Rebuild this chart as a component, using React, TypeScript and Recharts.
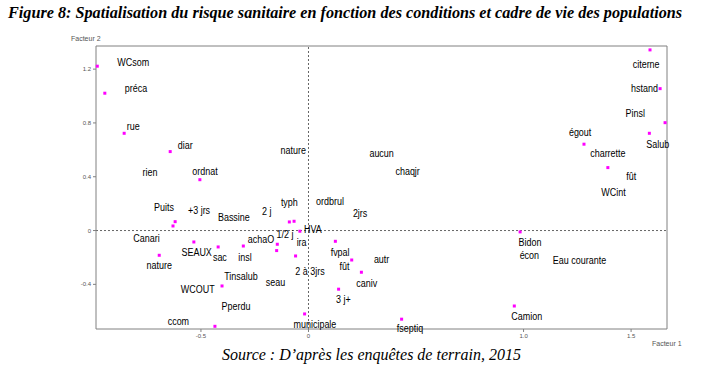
import React from "react";
import { ScatterChart, Scatter, XAxis, YAxis, ReferenceLine } from "recharts";

const pointX = [-0.982, -0.947, -0.857, -0.643, -0.505, -0.62, -0.63, -0.533, -0.42, -0.694, -0.402, -0.435,
  -0.089, -0.067, -0.04, 0.125, -0.145, -0.303, -0.148, -0.06, 0.201, 0.246, 0.14, -0.018, 0.433,
  1.588, 1.635, 1.658, 1.585, 1.281, 1.392, 0.984, 0.957];
const pointY = [1.222, 1.021, 0.723, 0.587, 0.378, 0.066, 0.034, -0.085, -0.122, -0.184, -0.412, -0.712,
  0.064, 0.069, -0.005, -0.08, -0.102, -0.115, -0.149, -0.189, -0.219, -0.31, -0.436, -0.62, -0.659,
  1.343, 1.055, 0.802, 0.723, 0.642, 0.468, -0.01, -0.561];

const labelText = ["WCsom", "préca", "rue", "diar", "rien", "ordnat", "Puits", "+3 jrs", "Bassine", "Canari",
  "SEAUX", "sac", "nature", "insl", "Tinsalub", "WCOUT", "Pperdu", "ccom", "nature", "aucun", "chaqjr",
  "ordbrul", "typh", "2 j", "2jrs", "HVA", "1/2 j", "achaO", "ira", "fvpal", "autr", "fût", "2 à 3jrs",
  "seau", "caniv", "3 j+", "municipale", "fseptiq", "citerne", "hstand", "Pinsl", "égout", "Salub",
  "charrette", "fût", "WCint", "Bidon", "écon", "Eau courante", "Camion"];
const labelX = [-0.815, -0.802, -0.815, -0.573, -0.737, -0.481, -0.672, -0.509, -0.347, -0.753,
  -0.52, -0.412, -0.694, -0.295, -0.314, -0.515, -0.337, -0.605, -0.071, 0.34, 0.461,
  0.1, -0.089, -0.194, 0.24, 0.02, -0.109, -0.221, -0.032, 0.147, 0.34, 0.167, 0.007,
  -0.153, 0.271, 0.162, 0.03, 0.472, 1.57, 1.562, 1.519, 1.263, 1.624,
  1.392, 1.501, 1.418, 1.03, 1.027, 1.26, 1.015];
const labelY = [1.251, 1.062, 0.778, 0.636, 0.438, 0.445, 0.173, 0.151, 0.103, -0.057,
  -0.159, -0.196, -0.258, -0.194, -0.335, -0.434, -0.561, -0.674, 0.599, 0.579, 0.443,
  0.22, 0.215, 0.146, 0.133, 0.012, -0.028, -0.065, -0.083, -0.157, -0.213, -0.268, -0.303,
  -0.382, -0.392, -0.511, -0.697, -0.728, 1.239, 1.058, 0.872, 0.735, 0.642,
  0.575, 0.408, 0.285, -0.087, -0.181, -0.219, -0.635];

const xTicks = [-0.5, 0, 1.0, 1.5];
const yTicks = [1.2, 0.8, 0.4, 0, -0.4];
const xDomain = [-0.988, 1.667];
const yDomain = [-0.732, 1.372];

const points = pointX.map((x, i) => ({ x, y: pointY[i] }));
const labels = labelText.map((name, i) => ({ x: labelX[i], y: labelY[i], name }));

const fmt = (v: number) => (v === 0 ? "0" : v.toFixed(1));

const PointShape = (p: any) => (
  <rect x={p.cx - 1.5} y={p.cy - 1.5} width={3} height={3} fill="#ff00ff" />
);

const LabelShape = (p: any) => (
  <text
    x={0}
    y={0}
    transform={`translate(${p.cx},${p.cy}) scale(0.78,1)`}
    textAnchor="middle"
    dominantBaseline="central"
    fontFamily="'Liberation Sans', Arial, sans-serif"
    fontSize={11.5}
    fill="#000"
  >
    {p.payload.name}
  </text>
);

export default function App() {
  return (
    <div style={{ position: "absolute", left: 0, top: 0, width: 702, height: 379, background: "#fff" }}>
      <div
        style={{
          position: "absolute", left: 8, top: 4, fontFamily: "'Liberation Serif', 'Times New Roman', serif",
          fontWeight: "bold", fontStyle: "italic", fontSize: 16.2, lineHeight: "18px", whiteSpace: "nowrap", color: "#000",
        }}
      >
        Figure 8: Spatialisation du risque sanitaire en fonction des conditions et cadre de vie des populations
      </div>
      <div
        style={{
          position: "absolute", left: 71, top: 35, fontFamily: "'Liberation Sans', Arial, sans-serif",
          fontSize: 7, color: "#555", whiteSpace: "nowrap",
        }}
      >
        Facteur 2
      </div>
      <div
        style={{
          position: "absolute", left: 652, top: 340, fontFamily: "'Liberation Sans', Arial, sans-serif",
          fontSize: 7, color: "#555", whiteSpace: "nowrap",
        }}
      >
        Facteur 1
      </div>
      <div style={{ position: "absolute", left: 0, top: 0 }}>
        <ScatterChart width={702} height={379} margin={{ top: 46, right: 35, bottom: 30, left: 66 }}>
          <XAxis
            type="number"
            dataKey="x"
            domain={xDomain}
            ticks={xTicks}
            tickFormatter={fmt}
            height={20}
            stroke="#808080"
            tickSize={3}
            tick={{ fontSize: 6, fill: "#555", fontFamily: "'Liberation Sans', Arial, sans-serif" }}
          />
          <YAxis
            type="number"
            dataKey="y"
            domain={yDomain}
            ticks={yTicks}
            tickFormatter={fmt}
            width={30}
            stroke="#808080"
            tickSize={3}
            tick={{ fontSize: 6, fill: "#555", fontFamily: "'Liberation Sans', Arial, sans-serif" }}
          />
          <ReferenceLine y={yDomain[1]} stroke="#808080" />
          <ReferenceLine x={xDomain[1]} stroke="#808080" />
          <ReferenceLine x={0} stroke="#666" strokeDasharray="2 2" />
          <ReferenceLine y={0} stroke="#666" strokeDasharray="2 2" />
          <Scatter data={labels} shape={LabelShape} isAnimationActive={false} />
          <Scatter data={points} shape={PointShape} isAnimationActive={false} />
        </ScatterChart>
      </div>
      <div
        style={{
          position: "absolute", left: 222, top: 345, fontFamily: "'Liberation Serif', 'Times New Roman', serif",
          fontStyle: "italic", fontSize: 16, lineHeight: "19px", whiteSpace: "nowrap", color: "#000",
        }}
      >
        Source : D’après les enquêtes de terrain, 2015
      </div>
    </div>
  );
}
